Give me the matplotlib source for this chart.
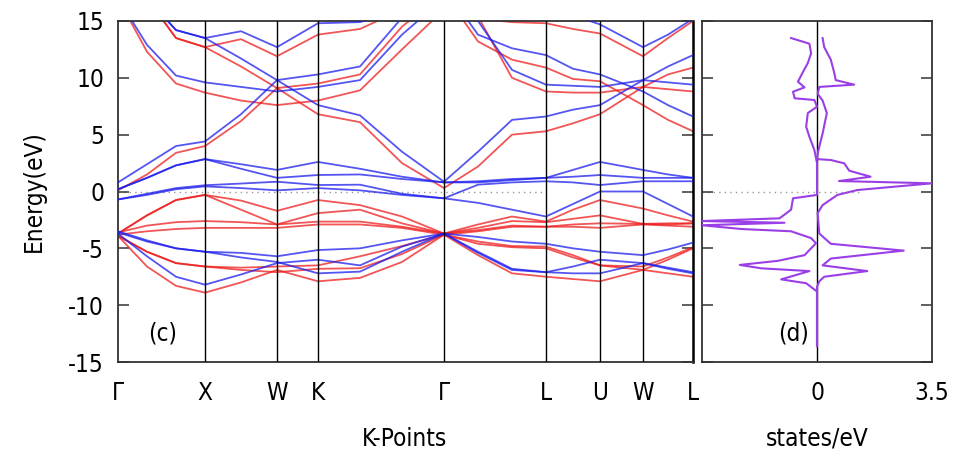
import matplotlib
matplotlib.use('Agg')
import matplotlib.pyplot as plt

plt.rcParams['font.family'] = ['DejaVu Sans']
plt.rcParams['font.stretch'] = 'condensed'
plt.rcParams['axes.unicode_minus'] = False

# ---------------- data ----------------
# k-path sample positions (path distance, arbitrary units)
k_path = [0.00, 0.29, 0.58, 0.87, 1.23, 1.59, 2.00, 2.42, 2.84, 3.26,
          3.60, 3.94, 4.28, 4.55, 4.82, 5.25, 5.50, 5.75]
hs_k = [0.00, 0.87, 1.59, 2.00, 3.26, 4.28, 4.82, 5.25, 5.75]
hs_labels = ['Γ', 'X', 'W', 'K', 'Γ', 'L', 'U', 'W', 'L']

# spin-up bands (blue), energies in eV at k_path
up_top = [17, 17, 14.2, 13.5, 14.1, 12.7, 14.8, 14.9, 16, 18, 17, 16, 16, 15.5, 14.7, 12.7, 13.8, 15.2]
up_h3 = [17, 17, 14.2, 13.5, 11.7, 9.8, 7.6, 6.7, 3.5, 0.86, 3.5, 6.3, 6.6, 7.2, 7.6, 9.8, 11.0, 12.0]
up_c1 = [0.8, 2.4, 4.0, 4.4, 6.8, 9.8, 10.3, 11.0, 15.3, 18, 13.8, 12.6, 12.0, 10.8, 10.3, 8.8, 7.6, 6.6]
up_h1 = [17, 12.9, 10.2, 9.6, 9.2, 8.8, 9.2, 9.8, 13.8, 17, 15.0, 10.7, 9.4, 9.3, 9.2, 9.8, 9.6, 9.4]
up_f1 = [-0.7, -0.3, 0.2, 0.45, 0.3, 0.1, 0.3, 0.1, -0.3, -0.6, -1.0, -1.6, -2.2, -1.1, 0.0, 0.0, -1.1, -2.2]
up_f2 = [-0.7, -0.2, 0.3, 0.55, 0.7, 0.86, 0.57, 0.6, -0.2, -0.6, 0.6, 0.8, 0.9, 0.8, 0.57, 0.9, 0.9, 0.9]
up_f3 = [0.2, 1.2, 2.3, 2.85, 2.0, 1.2, 1.45, 1.5, 1.1, 0.8, 0.9, 1.1, 1.2, 1.3, 1.45, 1.2, 1.2, 1.2]
up_f4 = [0.2, 1.2, 2.3, 2.85, 2.4, 1.9, 2.6, 2.0, 1.3, 0.8, 0.8, 1.0, 1.2, 1.9, 2.6, 1.9, 1.5, 1.2]
up_v1 = [-3.6, -4.4, -5.0, -5.3, -5.4, -5.7, -5.15, -5.0, -4.3, -3.7, -4.0, -4.4, -4.6, -5.0, -5.3, -5.6, -5.1, -4.5]
up_v2 = [-3.7, -5.7, -7.5, -8.2, -7.3, -6.3, -6.0, -6.5, -4.85, -3.7, -5.3, -6.8, -7.1, -7.2, -7.2, -6.3, -6.8, -7.2]
up_v3 = [-3.5, -4.3, -5.0, -5.3, -5.8, -6.2, -7.2, -7.05, -5.3, -3.7, -5.4, -6.9, -7.1, -6.6, -6.0, -6.3, -6.7, -7.1]

# spin-down bands (red)
dn_top = [17, 17, 13.5, 12.7, 13.4, 11.9, 13.8, 14.3, 16, 18, 15.2, 14.9, 14.8, 14.3, 13.9, 11.9, 13.5, 15]
dn_h3 = [17, 17, 13.5, 12.7, 11.0, 9.1, 6.8, 6.1, 2.5, 0.3, 2.2, 5.0, 5.3, 6.0, 6.8, 9.2, 10.3, 10.9]
dn_c1 = [0.1, 1.5, 3.4, 4.0, 6.2, 9.1, 9.5, 10.3, 14.5, 17.5, 13.2, 11.6, 10.9, 9.9, 9.7, 7.6, 6.3, 5.3]
dn_h1 = [17, 12.3, 9.5, 8.7, 8.0, 7.6, 8.0, 8.9, 12.5, 16, 15.4, 10.0, 8.8, 8.7, 8.7, 9.2, 9.0, 8.8]
dn_u1 = [-3.7, -2.1, -0.75, -0.3, -0.8, -1.7, -0.75, -1.2, -2.2, -3.7, -2.9, -2.2, -2.65, -1.6, -0.75, -1.5, -2.1, -2.65]
dn_u2 = [-3.7, -2.1, -0.75, -0.3, -1.6, -2.9, -1.9, -1.6, -2.8, -3.7, -3.2, -2.6, -2.7, -2.4, -2.1, -2.85, -2.8, -2.8]
dn_u3 = [-3.6, -3.0, -2.7, -2.6, -2.7, -2.9, -2.65, -2.65, -3.1, -3.7, -3.4, -3.0, -3.1, -2.9, -2.8, -2.85, -2.9, -2.8]
dn_u4 = [-3.8, -3.5, -3.3, -3.2, -3.2, -3.2, -2.9, -2.9, -3.2, -3.8, -3.5, -3.1, -3.1, -3.1, -3.2, -2.9, -3.0, -3.1]
dn_v1 = [-3.9, -6.6, -8.3, -8.9, -8.0, -6.9, -7.9, -7.6, -6.2, -3.8, -5.6, -7.2, -7.5, -7.7, -7.9, -6.9, -7.2, -7.5]
dn_v2 = [-3.9, -5.3, -6.3, -6.6, -6.7, -6.6, -6.5, -5.7, -4.8, -3.8, -4.6, -4.9, -5.0, -5.8, -6.5, -6.9, -6.0, -5.0]
dn_v3 = [-3.9, -5.3, -6.3, -6.6, -6.9, -7.1, -6.8, -6.75, -5.5, -3.8, -4.4, -4.8, -4.85, -5.6, -6.5, -6.6, -5.8, -4.9]

bands_up = [up_top, up_h3, up_c1, up_h1, up_f1, up_f2, up_f3, up_f4, up_v1, up_v2, up_v3]
bands_dn = [dn_top, dn_h3, dn_c1, dn_h1, dn_u1, dn_u2, dn_u3, dn_u4, dn_v1, dn_v2, dn_v3]

# DOS (states/eV): spin-up positive, spin-down negative
dos_up_E = [13.5, 12.7, 11.6, 10.5, 9.8, 9.4, 9.2, 8.6, 8.0, 6.9, 5.1, 3.6, 2.85, 2.77, 2.48,
            1.83, 1.3, 0.92, 0.72, 0.13, -0.3, -1.2, -1.9, -3.7, -4.6, -5.2, -5.9, -6.5, -7.0,
            -7.5, -7.9, -8.4, -13.6]
dos_up = [0.17, 0.22, 0.42, 0.52, 0.57, 1.13, 0.07, 0.02, 0.17, 0.30, 0.17, 0.04, 0.0, 0.42, 0.83,
          0.98, 1.63, 0.67, 3.5, 1.23, 0.62, 0.17, 0.02, 0.07, 0.42, 2.64, 0.42, 0.17, 1.53,
          0.22, 0.07, 0.0, 0.0]
dos_dn_E = [13.5, 13.0, 12.15, 11.3, 10.5, 9.66, 9.16, 8.78, 8.2, 8.05, 7.46, 6.9, 5.7, 4.8, 3.65,
            2.5, -0.3, -0.6, -1.6, -2.36, -2.6, -2.75, -2.97, -3.3, -3.5, -4.1, -4.55, -5.6,
            -6.1, -6.46, -6.76, -7.0, -7.73, -8.07, -8.8, -13.6]
dos_dn = [-0.79, -0.23, -0.18, -0.28, -0.43, -0.58, -0.38, -0.73, -0.68, -0.08, 0.0, -0.28, -0.33,
          -0.23, -0.08, 0.0, 0.0, -0.73, -0.79, -1.14, -3.5, -0.99, -3.5, -2.3, -0.79, -0.18,
          -0.03, -0.38, -1.19, -2.35, -1.69, -0.23, -1.09, -0.33, 0.0, 0.0]

y_ticks = [-15, -10, -5, 0, 5, 10, 15]
dos_ticks = [0, 3.5]
dos_tick_labels = ['0', '3.5']

# ---------------- plot ----------------
FS = 17.5
fig = plt.figure(figsize=(9.71, 4.55), dpi=100)
ax = fig.add_axes([118 / 971, 93 / 455, 575 / 971, 341 / 455])
ax2 = fig.add_axes([702 / 971, 93 / 455, 230 / 971, 341 / 455])

for b in bands_dn:
    ax.plot(k_path, b, color='#ee1c1c', lw=1.3, alpha=0.75, zorder=2)
for b in bands_up:
    ax.plot(k_path, b, color='#1c1cee', lw=1.3, alpha=0.75, zorder=3)

for k in hs_k[1:-1]:
    ax.axvline(k, color='black', lw=1.0, zorder=4)
ax.plot([hs_k[0], hs_k[5]], [0, 0], ls=(0, (1, 3)), color='#999999', lw=1.0, zorder=1)

ax.set_xlim(hs_k[0], hs_k[-1])
ax.set_ylim(-15, 15)
ax.set_xticks(hs_k)
ax.set_xticklabels(hs_labels)
ax.set_yticks(y_ticks)
ax.tick_params(axis='y', direction='in', length=8, width=1.2, left=True, right=True,
               labelsize=FS, pad=10, color='#444444')
ax.tick_params(axis='x', length=0, labelsize=FS, pad=14)
for s in ax.spines.values():
    s.set_linewidth(1.3)
    s.set_color('#333333')
ax.spines['right'].set_color('black')
ax.spines['right'].set_linewidth(1.8)
ax.set_xlabel('K-Points', fontsize=FS)
ax.xaxis.set_label_coords(0.499, -0.19)
ax.set_ylabel('Energy(eV)', fontsize=FS)
ax.yaxis.set_label_coords(-0.125, 0.5)
ax.text(0.077, 0.085, '(c)', transform=ax.transAxes, fontsize=FS, ha='center', va='center')

# DOS panel
ax2.axvline(0, color='black', lw=1.0, zorder=2)
ax2.plot([-3.5, 1.4], [0, 0], ls=(0, (1, 3)), color='#999999', lw=1.0, zorder=1)
ax2.plot(dos_up, dos_up_E, color='#9a3fe6', lw=1.5, zorder=3)
ax2.plot(dos_dn, dos_dn_E, color='#9a3fe6', lw=1.5, zorder=3)
ax2.set_xlim(-3.5, 3.5)
ax2.set_ylim(-15, 15)
ax2.set_xticks(dos_ticks)
ax2.set_xticklabels(dos_tick_labels)
ax2.set_yticks(y_ticks)
ax2.tick_params(axis='y', direction='in', length=8, width=1.2, left=True, right=True,
                labelleft=False, color='#444444')
ax2.tick_params(axis='x', length=0, labelsize=FS, pad=14)
for s in ax2.spines.values():
    s.set_linewidth(1.3)
    s.set_color('#333333')
ax2.set_xlabel('states/eV', fontsize=FS)
ax2.xaxis.set_label_coords(0.5, -0.19)
ax2.text(0.4, 0.085, '(d)', transform=ax2.transAxes, fontsize=FS, ha='center', va='center')

fig.savefig('out.png', dpi=100)
